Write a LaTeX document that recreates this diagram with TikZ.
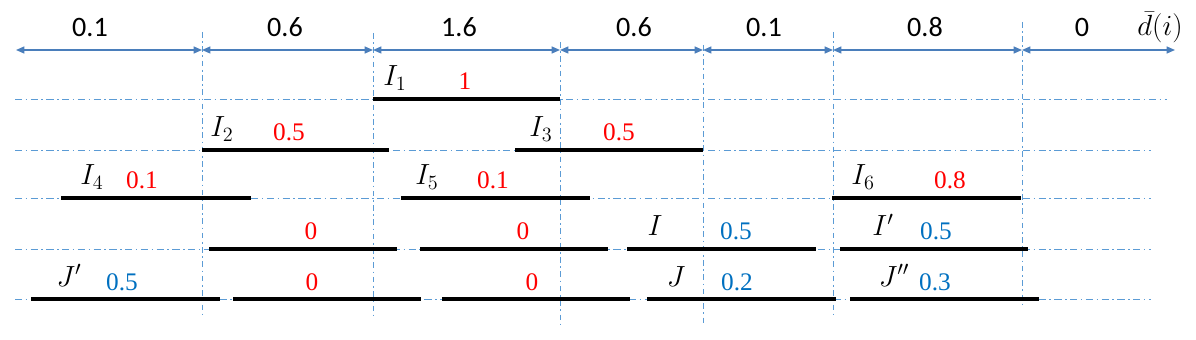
\documentclass[tikz,border=0pt]{standalone}
\usepackage{fontspec}
\newfontfamily\calibri{Carlito}
\newfontfamily\numfont{Liberation Serif}
\usetikzlibrary{arrows.meta}
\definecolor{arrblue}{HTML}{4A7EBB}
\definecolor{gridblue}{HTML}{5B9BD5}
\definecolor{numblue}{HTML}{0070C0}
\definecolor{numred}{HTML}{FF0000}
\tikzset{
  gridline/.style={gridblue, line width=0.7pt, dash pattern=on 5pt off 2.5pt on 1.2pt off 2.5pt},
  vline/.style={gridblue, line width=0.6pt, dash pattern=on 4pt off 2.5pt on 1.2pt off 2.5pt},
  span/.style={arrblue, line width=0.9pt, {Triangle[length=6pt,width=5pt]}-{Triangle[length=6pt,width=5pt]}},
  bar/.style={line width=2.8pt},
  toplab/.style={font=\fontsize{20}{24}\selectfont\calibri, anchor=base, inner sep=0pt},
  ilab/.style={font=\fontsize{21}{25}\selectfont, anchor=base, inner sep=0pt},
  rnum/.style={numred, font=\fontsize{18}{22}\selectfont\numfont, anchor=base, inner sep=0pt},
  bnum/.style={rnum, numblue}
}

\begin{document}
\begin{tikzpicture}[x=0.025cm, y=-0.025cm]
\useasboundingbox (0,0) rectangle (1196,340);
% grid rows and columns
\draw[gridline] (15,99) -- (1167,99);
\foreach \y in {150,198,249,299} \draw[gridline] (15,\y) -- (1151,\y);
\foreach \x/\t/\b [count=\i] in {202/32/317, 373/33/319, 560/42/327, 703/45/323, 833/32/316, 1022/22/306} {
  \coordinate (v\i) at (\x,50);
  \draw[vline] (\x,\t) -- (\x,\b);
}
% spans and d(i) values
\coordinate (v0) at (16,50); \coordinate (v7) at (1175,50);
\foreach \a/\b in {v0/v1, v1/v2, v2/v3, v3/v4, v4/v5, v5/v6, v6/v7} \draw[span] (\a) -- (\b);
\foreach \x/\t [count=\i] in {90/0.1, 285/0.6, 459/1.6, 634/0.6, 764/0.1, 925/0.8, 1082/0} \node[toplab] (dv\i) at (\x,37) {\t};
\node[ilab] (dbar) at (1160,36) {$\bar{d}(i)$};
% intervals
\foreach \a/\b/\y in {373/560/99, 202/389/150, 515/703/150, 61/251/198, 401/590/198, 832/1021/198,
  209/397/249, 420/608/249, 627/816/249, 840/1028/249, 31/220/299, 233/421/299, 442/630/299, 647/836/299, 850/1039/299}
  \draw[bar] (\a,\y) -- (\b,\y);
\node[ilab] (i1) at (395,86) {$I_1$};   \node[rnum] (n1) at (465,90) {1};
\node[ilab] (i2) at (222,137) {$I_2$};  \node[rnum] (n2) at (289,141) {0.5};
\node[ilab] (i3) at (541,137) {$I_3$};  \node[rnum] (n3) at (619,141) {0.5};
\node[ilab] (i4) at (92,185) {$I_4$};   \node[rnum] (n4) at (142,189) {0.1};
\node[ilab] (i5) at (427,185) {$I_5$};  \node[rnum] (n5) at (493,189) {0.1};
\node[ilab] (i6) at (863,185) {$I_6$};  \node[rnum] (n6) at (950,189) {0.8};
\node[rnum] (z1) at (311,240) {0};      \node[rnum] (z2) at (523,240) {0};
\node[ilab] (ii) at (655,236) {$I$};    \node[bnum] (ni) at (736,240) {0.5};
\node[ilab] (ip) at (883,236) {$I'$};   \node[bnum] (nip) at (936,240) {0.5};
\node[ilab] (jp) at (69,286) {$J'$};    \node[bnum] (njp) at (122,290) {0.5};
\node[rnum] (z3) at (312,290) {0};      \node[rnum] (z4) at (532,290) {0};
\node[ilab] (jj) at (676,286) {$J$};    \node[bnum] (nj) at (737,290) {0.2};
\node[ilab] (jpp) at (894,286) {$J''$}; \node[bnum] (njpp) at (935,290) {0.3};
\end{tikzpicture}
\end{document}
